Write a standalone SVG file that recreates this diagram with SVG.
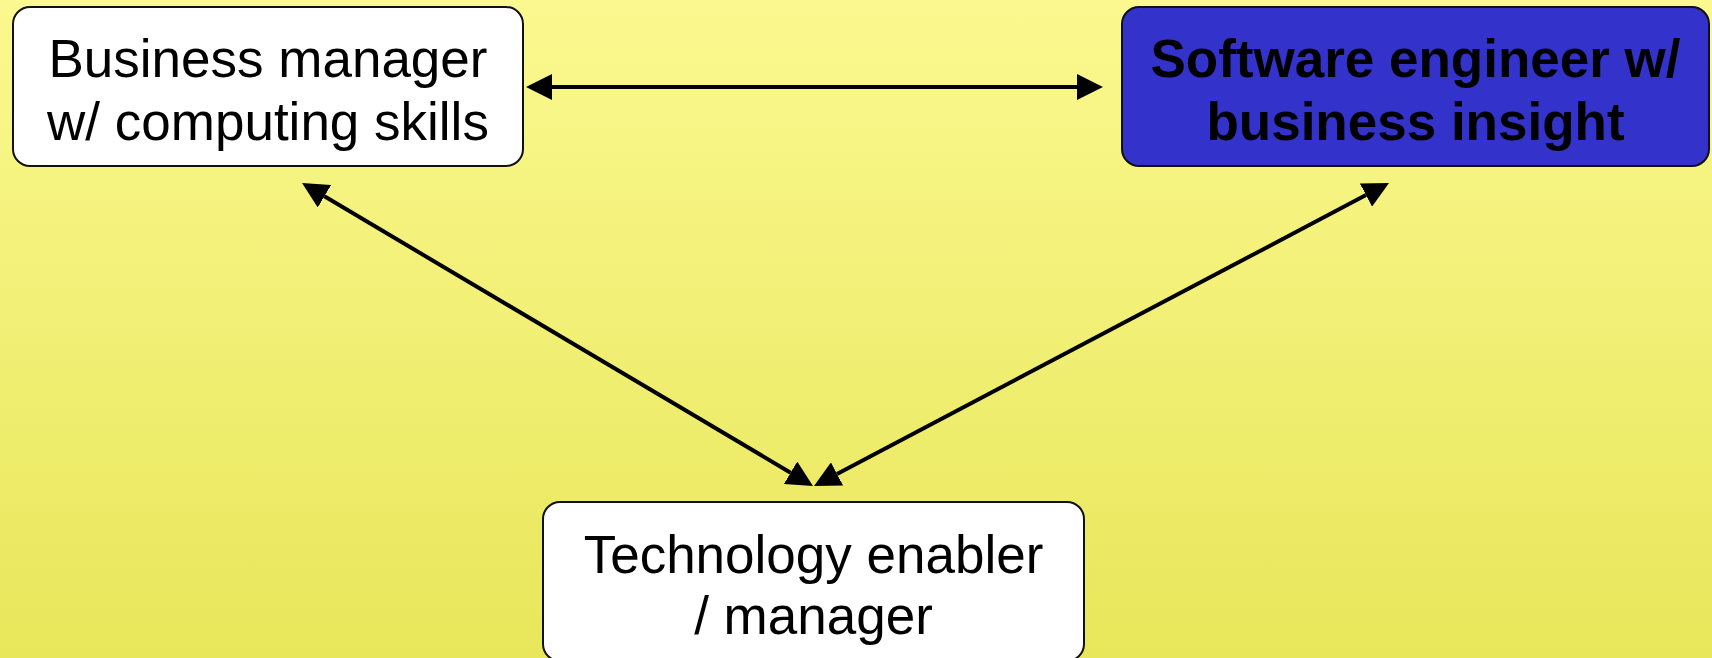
<svg xmlns="http://www.w3.org/2000/svg" width="1712" height="658" viewBox="0 0 1712 658">
  <defs>
    <linearGradient id="bg" x1="0" y1="0" x2="0" y2="1">
      <stop offset="0" stop-color="#FBF98F"/>
      <stop offset="1" stop-color="#E8E65A"/>
    </linearGradient>
    <marker id="arrow" markerUnits="userSpaceOnUse" markerWidth="26" markerHeight="26" viewBox="0 0 26 26" refX="0" refY="13" orient="auto-start-reverse">
      <path d="M0,0 L26,13 L0,26 Z" fill="#000"/>
    </marker>
    <style>
      .box { stroke: #111; stroke-width: 2; }
      .white { fill: #FFFFFF; }
      .blue { fill: #3333CC; }
      .lbl { font-family: "Liberation Sans", Arial, sans-serif; font-size: 53px; fill: #000; text-anchor: middle; }
      .bold { font-weight: bold; }
      .conn { stroke: #000; stroke-width: 4; fill: none; marker-start: url(#arrow); marker-end: url(#arrow); }
    </style>
  </defs>
  <rect x="0" y="0" width="1712" height="658" fill="url(#bg)"/>

  <g id="connectors">
    <line class="conn" x1="552" y1="87" x2="1077" y2="87"/>
    <line class="conn" x1="324.4" y1="196.3" x2="790.6" y2="472.7"/>
    <line class="conn" x1="1366" y1="195.1" x2="837" y2="473.9"/>
  </g>

  <g id="business-manager">
    <rect class="box white" x="13" y="7" width="510" height="159" rx="17" ry="17"/>
    <text class="lbl" x="268" y="77">Business manager</text>
    <text class="lbl" x="268" y="140">w/ computing skills</text>
  </g>

  <g id="software-engineer">
    <rect class="box blue" x="1122" y="7" width="587" height="159" rx="17" ry="17"/>
    <text class="lbl bold" x="1415.5" y="77">Software engineer w/</text>
    <text class="lbl bold" x="1415.5" y="140">business insight</text>
  </g>

  <g id="technology-enabler">
    <rect class="box white" x="543" y="502" width="541" height="159" rx="17" ry="17"/>
    <text class="lbl" x="813.5" y="573">Technology enabler</text>
    <text class="lbl" x="813.5" y="634">/ manager</text>
  </g>
</svg>
